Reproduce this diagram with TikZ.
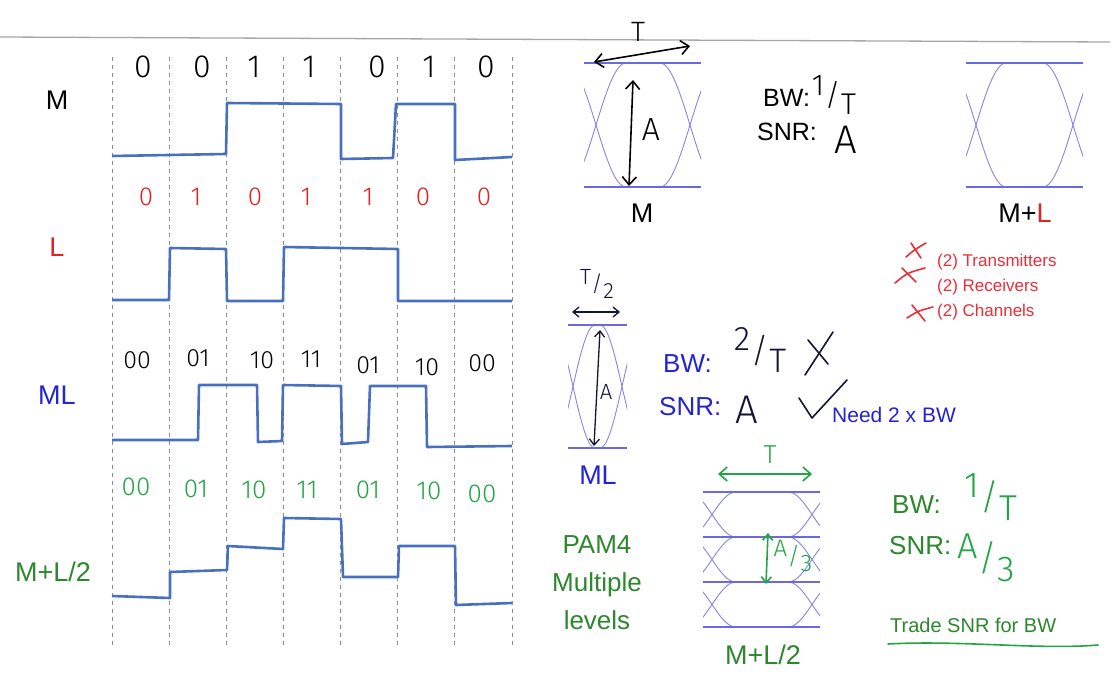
\documentclass[tikz,border=0pt]{standalone}
\usepackage{fontspec}
\setmainfont{Liberation Sans}
\newfontfamily\hand{Fira Sans Light}
\usetikzlibrary{arrows.meta}
\definecolor{waveblue}{RGB}{72,112,190}
\definecolor{eyeblue}{RGB}{105,105,225}
\definecolor{eyecurve}{RGB}{135,135,225}
\definecolor{lred}{RGB}{225,35,35}
\definecolor{xred}{RGB}{235,45,55}
\definecolor{mlblue}{RGB}{35,35,215}
\definecolor{pgreen}{RGB}{45,135,45}
\definecolor{hgreen}{RGB}{35,165,70}
\definecolor{navy}{RGB}{20,20,55}
\newcommand{\hfr}[2]{\raisebox{0.34em}{#1}\kern0.02em/\kern0.02em\raisebox{-0.3em}{#2}}
\newcommand{\myeye}[7]{%
  \begin{scope}
    \clip (#1,#5-10) rectangle (#2,#6+10);
    \foreach \xc in {#3,#4}{
      \draw[eyecurve] plot[domain=-1:1,samples=30] ({\xc+#7*\x},{(#5+#6)/2-(#6-#5)/2*sin(90*\x)});
      \draw[eyecurve] plot[domain=-1:1,samples=30] ({\xc+#7*\x},{(#5+#6)/2+(#6-#5)/2*sin(90*\x)});
    }
  \end{scope}
  \draw[eyeline] (#1,#5) -- (#2,#5);
  \draw[eyeline] (#1,#6) -- (#2,#6);
}
\tikzset{
  wave/.style={draw=waveblue, line width=2.6pt, line join=round},
  gridline/.style={draw=black!45, line width=0.9pt, dash pattern=on 4pt off 4pt},
  eyeline/.style={draw=eyeblue, line width=1.4pt},
  eyecurve/.style={draw=eyecurve, line width=0.9pt},
  lab/.style={font=\fontsize{27}{30}\selectfont, inner sep=0pt},
  txt/.style={font=\fontsize{25}{28}\selectfont, inner sep=0pt, anchor=west},
  hw/.style={font=\hand\fontsize{30}{32}\selectfont, inner sep=0pt},
  ink/.style={line width=1.6pt, line cap=round, line join=round},
  hd/.style={ink, {Straight Barb[length=8pt,width=14pt]}-{Straight Barb[length=8pt,width=14pt]}},
}
\begin{document}
\begin{tikzpicture}[x=1pt,y=-1pt]
\useasboundingbox (0,0) rectangle (1120,685);
\fill[white] (0,0) rectangle (1120,685);
% top rule
\draw[black!35, line width=1.3pt] (0,37) -- (1110,42);
% dashed grid
\foreach \i in {0,...,7} \draw[gridline] ({112+57.14*\i},57) -- ({112+57.14*\i},648);
% row labels
\node[lab] (labM) at (57,100) {M};
\node[lab, text=lred] (labL) at (57,247) {L};
\node[lab, text=mlblue] (labML) at (57,395) {ML};
\node[lab, text=pgreen] (labMLh) at (53,572) {M+L/2};
% bits
\foreach \b/\x in {0/143,0/202,1/254,1/309,0/377,1/429,0/486}
  \node[hw, font=\hand\fontsize{32}{34}\selectfont] (mb\x) at (\x,67) {\b};
\foreach \b/\x in {0/146,1/196,0/255,1/306,1/368,0/423,0/484}
  \node[hw, text=lred, font=\hand\fontsize{26}{28}\selectfont] (lb\x) at (\x,197) {\b};
\foreach \b/\x/\y in {00/137/360,01/198/358,10/262/360,11/311/359,01/368/365,10/427/367,00/482/363}
  \node[hw, font=\hand\fontsize{25}{27}\selectfont] (kb\x) at (\x,\y) {\b};
\foreach \b/\x/\y in {00/136/487,01/196/489,10/254/490,11/307/490,01/368/490,10/429/491,00/482/494}
  \node[hw, text=hgreen, font=\hand\fontsize{26}{28}\selectfont] (gb\x) at (\x,\y) {\b};
% waveforms
\draw[wave] (112,156) -- (226,154) -- (227,103) -- (341,104) -- (341,159) -- (393,158) -- (396,104) -- (455,104) -- (455,160) -- (512,157);
\draw[wave] (112,300) -- (169,300) -- (170,248) -- (226,249) -- (227,301) -- (283,301) -- (284,247) -- (398,249) -- (398,301) -- (512,301);
\draw[wave] (112,440) -- (198,440) -- (199,385) -- (257,385) -- (258,442) -- (282,441) -- (283,385) -- (341,386) -- (342,444) -- (368,442) -- (370,386) -- (426,386) -- (427,447) -- (512,446);
\draw[wave] (112,596) -- (170,598) -- (170,572) -- (227,570) -- (228,546) -- (283,549) -- (284,518) -- (341,519) -- (343,577) -- (398,577) -- (399,546) -- (455,546) -- (456,605) -- (512,603);
% eye M
\myeye{584}{701}{596}{690}{63}{187}{30}
\node[lab] (eyeMlab) at (642,213) {M};
\node[hw, font=\hand\fontsize{28}{30}\selectfont] (tM) at (638,32) {T};
\coordinate (tMl) at (594,62); \coordinate (tMr) at (690,46);
\draw[hd] (tMl) -- (tMr);
\coordinate (aMt) at (633,80); \coordinate (aMb) at (629,186);
\draw[hd] (aMt) -- (aMb);
\node[hw, font=\hand\fontsize{32}{34}\selectfont] (aM) at (651,130) {A};
\node[txt] (bw1) at (763,98) {BW:};
\node[txt] (snr1) at (757,132) {SNR:};
\node[hw, font=\hand\fontsize{30}{32}\selectfont] (bw1v) at (834,95) {\hfr{1}{T}};
\node[hw, font=\hand\fontsize{40}{42}\selectfont] (snr1v) at (846,140) {A};
% eye M+L
\myeye{966}{1083}{976}{1073}{63}{187}{30}
\node[lab] (eyeMLlab) at (1025,213) {M+\textcolor{lred}{L}};
% red list
\draw[ink, xred] (906,257) .. controls (914,250) .. (926,243);
\draw[ink, xred] (911,243) -- (921,258);
\draw[ink, xred] (895,283) .. controls (907,273) .. (925,268);
\draw[ink, xred] (902,268) -- (916,282);
\draw[ink, xred] (907,318) .. controls (918,311) .. (933,307);
\draw[ink, xred] (912,305) -- (925,321);
\node[txt, text=xred, font=\fontsize{17}{19}\selectfont] (r1) at (937,262) {(2) Transmitters};
\node[txt, text=xred, font=\fontsize{17}{19}\selectfont] (r2) at (937,287) {(2) Receivers};
\node[txt, text=xred, font=\fontsize{17}{19}\selectfont] (r3) at (937,312) {(2) Channels};
% eye ML
\myeye{568}{627}{573}{622}{325}{448}{22}
\node[lab, text=mlblue] (eyeMLl) at (598,475) {ML};
\node[hw, text=navy, font=\hand\fontsize{22}{24}\selectfont] (t2) at (597,284) {\hfr{T}{2}};
\coordinate (t2l) at (572,312); \coordinate (t2r) at (620,312);
\draw[ink, navy, line width=1.3pt, {Straight Barb[length=6pt,width=10pt]}-{Straight Barb[length=6pt,width=10pt]}] (t2l) -- (t2r);
\coordinate (a2t) at (600,330); \coordinate (a2b) at (594,446);
\draw[ink, navy, line width=1.3pt, {Straight Barb[length=6pt,width=10pt]}-{Straight Barb[length=6pt,width=10pt]}] (a2t) -- (a2b);
\node[hw, text=navy, font=\hand\fontsize{22}{24}\selectfont] (a2) at (606,392) {A};
\node[txt, text=mlblue, font=\fontsize{26}{28}\selectfont] (bw2) at (663,364) {BW:};
\node[txt, text=mlblue, font=\fontsize{26}{28}\selectfont] (snr2) at (659,407) {SNR:};
\node[hw, text=navy, font=\hand\fontsize{34}{36}\selectfont] (bw2v) at (760,350) {\hfr{2}{T}};
\draw[ink, navy] (805,375) -- (833,332);
\draw[ink, navy] (808,340) -- (828,364);
\node[hw, text=navy, font=\hand\fontsize{40}{42}\selectfont] (snr2v) at (747,410) {A};
\draw[ink, navy] (799,398) -- (812,418) -- (847,380);
\node[txt, text=mlblue, font=\fontsize{21}{23}\selectfont] (need) at (832,415) {Need 2 x BW};
% PAM4
\node[lab, text=pgreen, align=center, font=\fontsize{26}{38}\selectfont] (pam) at (597,583) {PAM4\\Multiple\\levels};
% eye M+L/2
\myeye{703}{820}{712}{812}{492}{537}{24}
\myeye{703}{820}{712}{812}{537}{582}{24}
\myeye{703}{820}{712}{812}{582}{627}{24}
\node[lab, text=pgreen] (eyePlab) at (763,655) {M+L/2};
\node[hw, text=hgreen, font=\hand\fontsize{26}{28}\selectfont] (t3) at (770,455) {T};
\coordinate (t3l) at (718,474); \coordinate (t3r) at (812,474);
\draw[hd, hgreen] (t3l) -- (t3r);
\coordinate (a3t) at (768,533); \coordinate (a3b) at (766,584);
\draw[ink, hgreen, {Straight Barb[length=6pt,width=10pt]}-{Straight Barb[length=6pt,width=10pt]}] (a3t) -- (a3b);
\node[hw, text=hgreen, font=\hand\fontsize{24}{26}\selectfont] (a3) at (793,556) {\hfr{A}{3}};
\node[txt, text=pgreen, font=\fontsize{26}{28}\selectfont] (bw3) at (892,505) {BW:};
\node[txt, text=pgreen, font=\fontsize{26}{28}\selectfont] (snr3) at (889,546) {SNR:};
\node[hw, text=hgreen, font=\hand\fontsize{36}{38}\selectfont] (bw3v) at (991,497) {\hfr{1}{T}};
\node[hw, text=hgreen, font=\hand\fontsize{36}{38}\selectfont] (snr3v) at (986,558) {\hfr{A}{3}};
\node[txt, text=pgreen, font=\fontsize{20}{22}\selectfont] (trade) at (890,625) {Trade SNR for BW};
\coordinate (ul1) at (888,644); \coordinate (ul2) at (1098,645);
\draw[ink, hgreen] (ul1) .. controls (960,640) and (1040,650) .. (ul2);
\end{tikzpicture}
\end{document}
